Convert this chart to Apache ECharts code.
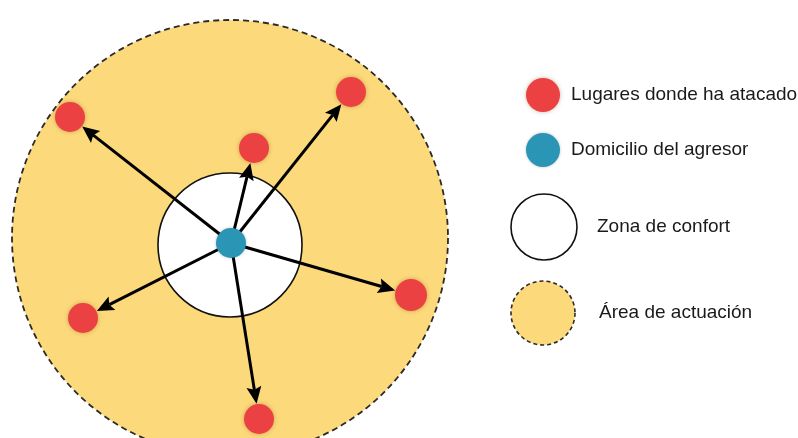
<!DOCTYPE html>
<html>
<head>
<meta charset="utf-8">
<script src="https://cdn.jsdelivr.net/npm/echarts@6/dist/echarts.min.js"></script>
<style>html,body{margin:0;padding:0;background:#fff}#c{width:798px;height:438px}</style>
</head>
<body>
<div id="c"></div>
<script>
// Diagram data (in diagram units, mapped through hidden axes)
const actionArea = [[230, 238, 218]];           // [x, y, radius]
const comfortZone = [[230, 245, 72]];
const home = [[231, 243, 15]];
const attacks = [[70, 117, 15], [351, 92, 15], [254, 148, 15], [411, 295, 16], [83, 318, 15], [259, 419, 15]];
const legendLabels = ['Lugares donde ha atacado', 'Domicilio del agresor', 'Zona de confort', 'Área de actuación'];
const legendItems = [[543, 95, 17, 0], [543, 150, 17, 1], [544, 227, 33, 2], [543, 313, 32, 3]]; // x, y, r, labelIndex
const legendTextX = [571, 571, 597, 599];

const RED = '#EC4142', BLUE = '#2A95B4', YELLOW = '#FCD97A';

const chart = echarts.init(document.getElementById('c'));

function circleSeries(data, style, z) {
  return {
    type: 'custom', coordinateSystem: 'cartesian2d', z: z, silent: true,
    data: data,
    renderItem: function (params, api) {
      const c = api.coord([api.value(0), api.value(1)]);
      const r = api.size([api.value(2), 0])[0];
      return { type: 'circle', shape: { cx: c[0], cy: c[1], r: r }, style: style };
    }
  };
}

const arrowData = attacks.map(a => [home[0][0], home[0][1], a[0], a[1], a[2]]);

const option = {
  animation: false,
  grid: { left: 0, right: 0, top: 0, bottom: 0 },
  xAxis: { type: 'value', min: 0, max: 798, show: false },
  yAxis: { type: 'value', min: 0, max: 438, inverse: true, show: false },
  series: [
    circleSeries(actionArea, { fill: YELLOW, stroke: '#2a2a2a', lineWidth: 1.8, lineDash: [6, 4] }, 1),
    circleSeries(comfortZone, { fill: '#ffffff', stroke: '#111', lineWidth: 1.6 }, 2),
    {
      type: 'custom', coordinateSystem: 'cartesian2d', z: 3, silent: true,
      data: arrowData,
      renderItem: function (params, api) {
        const p0 = api.coord([api.value(0), api.value(1)]);
        const p1 = api.coord([api.value(2), api.value(3)]);
        const rr = api.size([api.value(4), 0])[0];
        const dx = p1[0] - p0[0], dy = p1[1] - p0[1];
        const L = Math.sqrt(dx * dx + dy * dy);
        const ux = dx / L, uy = dy / L;
        const tip = [p1[0] - ux * (rr + 0.5), p1[1] - uy * (rr + 0.5)];
        const hl = 17, hw = 7.5;
        const base = [tip[0] - ux * hl, tip[1] - uy * hl];
        const nx = -uy, ny = ux;
        return {
          type: 'group',
          children: [
            { type: 'line', shape: { x1: p0[0], y1: p0[1], x2: base[0] + ux * 3, y2: base[1] + uy * 3 },
              style: { stroke: '#000', lineWidth: 3 } },
            { type: 'polygon', shape: { points: [tip, [base[0] + nx * hw, base[1] + ny * hw], [base[0] + ux * 3, base[1] + uy * 3], [base[0] - nx * hw, base[1] - ny * hw]] },
              style: { fill: '#000' } }
          ]
        };
      }
    },
    circleSeries(attacks, { fill: RED, shadowBlur: 4, shadowColor: 'rgba(120,60,0,0.35)' }, 4),
    circleSeries(home, { fill: BLUE, shadowBlur: 3, shadowColor: 'rgba(0,0,0,0.25)' }, 5),
    {
      type: 'custom', coordinateSystem: 'cartesian2d', z: 6, silent: true,
      data: legendItems,
      renderItem: function (params, api) {
        const idx = api.value(3);
        const c = api.coord([api.value(0), api.value(1)]);
        const r = api.size([api.value(2), 0])[0];
        const styles = [
          { fill: RED, shadowBlur: 4, shadowColor: 'rgba(120,60,0,0.35)' },
          { fill: BLUE, shadowBlur: 3, shadowColor: 'rgba(0,0,0,0.25)' },
          { fill: '#fff', stroke: '#111', lineWidth: 1.6 },
          { fill: YELLOW, stroke: '#2a2a2a', lineWidth: 1.6, lineDash: [4, 3] }
        ];
        const tx = api.coord([legendTextX[idx], api.value(1)]);
        return {
          type: 'group',
          children: [
            { type: 'circle', shape: { cx: c[0], cy: c[1], r: r }, style: styles[idx] },
            { type: 'text', x: tx[0], y: tx[1],
              style: { text: legendLabels[idx], fill: '#1a1a1a', font: '19px "Liberation Sans", Arial, sans-serif',
                       textAlign: 'left', textVerticalAlign: 'middle' } }
          ]
        };
      }
    }
  ]
};
chart.setOption(option);
</script>
</body>
</html>
